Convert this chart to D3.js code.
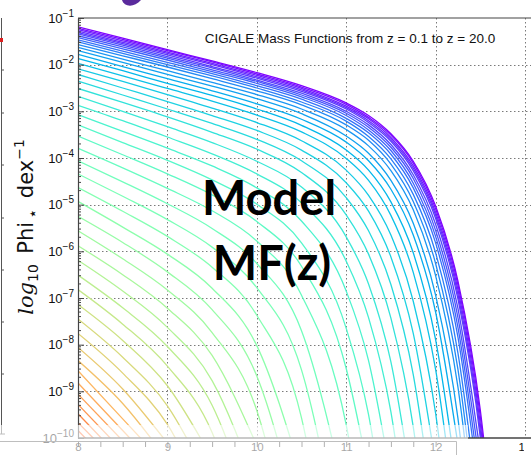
<!DOCTYPE html>
<html>
<head>
<meta charset="utf-8">
<script src="https://cdn.jsdelivr.net/npm/d3@7"></script>
<style>
  body { margin: 0; background: #fff; }
</style>
</head>
<body>
<div id="chart"></div>
<script>
// log10(M*) sample grid shared by all curves
const massGrid = [8, 8.5, 9, 9.5, 10, 10.5, 11, 11.25, 11.5, 11.75, 12, 12.25, 12.5, 12.75];

// log10 Phi for each redshift step, z = 0.1 (first) upwards; each stops once off the bottom
const logPhi = [
  [-1.19, -1.43, -1.68, -1.92, -2.17, -2.45, -2.82, -3.09, -3.48, -4.07, -5.03, -6.64, -9.40, -14.23],
  [-1.22, -1.46, -1.70, -1.94, -2.20, -2.48, -2.85, -3.13, -3.51, -4.11, -5.09, -6.72, -9.54, -14.46],
  [-1.25, -1.49, -1.73, -1.97, -2.23, -2.51, -2.89, -3.16, -3.56, -4.17, -5.16, -6.82, -9.70, -14.72],
  [-1.28, -1.52, -1.76, -2.00, -2.26, -2.54, -2.92, -3.20, -3.60, -4.22, -5.22, -6.92, -9.85, -14.96],
  [-1.31, -1.55, -1.79, -2.04, -2.29, -2.57, -2.95, -3.24, -3.64, -4.27, -5.29, -7.02, -9.99, -15.19],
  [-1.34, -1.58, -1.83, -2.07, -2.33, -2.61, -3.00, -3.29, -3.71, -4.36, -5.42, -7.22, -10.32],
  [-1.38, -1.62, -1.86, -2.11, -2.36, -2.65, -3.04, -3.34, -3.77, -4.44, -5.55, -7.42, -10.65],
  [-1.42, -1.66, -1.90, -2.15, -2.40, -2.69, -3.09, -3.40, -3.84, -4.54, -5.68, -7.63, -10.99],
  [-1.47, -1.71, -1.95, -2.19, -2.45, -2.74, -3.15, -3.46, -3.92, -4.64, -5.82, -7.84, -11.33],
  [-1.51, -1.76, -2.00, -2.24, -2.50, -2.80, -3.21, -3.54, -4.02, -4.78, -6.03, -8.18, -11.89],
  [-1.57, -1.81, -2.05, -2.30, -2.56, -2.86, -3.29, -3.62, -4.13, -4.93, -6.26, -8.53, -12.48],
  [-1.63, -1.88, -2.13, -2.38, -2.64, -2.95, -3.39, -3.74, -4.27, -5.11, -6.52, -8.91, -13.08],
  [-1.70, -1.95, -2.21, -2.46, -2.73, -3.05, -3.53, -3.90, -4.48, -5.40, -6.94, -9.58, -14.18],
  [-1.78, -2.04, -2.30, -2.56, -2.84, -3.17, -3.66, -4.06, -4.67, -5.65, -7.30, -10.14],
  [-1.87, -2.13, -2.40, -2.66, -2.95, -3.30, -3.83, -4.26, -4.94, -6.03, -7.89, -11.08],
  [-1.97, -2.24, -2.51, -2.78, -3.08, -3.44, -4.01, -4.48, -5.23, -6.45, -8.53, -12.11],
  [-2.09, -2.36, -2.64, -2.93, -3.24, -3.63, -4.26, -4.80, -5.65, -7.07, -9.47, -13.64],
  [-2.21, -2.50, -2.79, -3.09, -3.41, -3.83, -4.53, -5.14, -6.12, -7.76, -10.56],
  [-2.35, -2.65, -2.95, -3.26, -3.60, -4.06, -4.85, -5.56, -6.71, -8.64, -11.95],
  [-2.51, -2.81, -3.12, -3.45, -3.81, -4.31, -5.22, -6.06, -7.43, -9.76, -13.77],
  [-2.68, -3.00, -3.33, -3.67, -4.07, -4.62, -5.69, -6.70, -8.37, -11.21],
  [-2.87, -3.20, -3.55, -3.91, -4.34, -4.96, -6.21, -7.42, -9.44, -12.91],
  [-3.07, -3.43, -3.79, -4.17, -4.64, -5.35, -6.85, -8.34, -10.84],
  [-3.29, -3.67, -4.05, -4.47, -4.99, -5.82, -7.65, -9.50, -12.64],
  [-3.53, -3.93, -4.34, -4.79, -5.36, -6.32, -8.51, -10.75],
  [-3.79, -4.21, -4.65, -5.13, -5.78, -6.94, -9.72, -12.63],
  [-4.06, -4.51, -4.98, -5.51, -6.26, -7.70, -11.31],
  [-4.34, -4.82, -5.32, -5.91, -6.78, -8.54, -13.11],
  [-4.63, -5.14, -5.68, -6.34, -7.37, -9.57, -15.48],
  [-4.93, -5.48, -6.06, -6.79, -8.02, -10.78],
  [-5.25, -5.81, -6.44, -7.25, -8.67, -11.98],
  [-5.56, -6.16, -6.83, -7.74, -9.41, -13.48],
  [-5.88, -6.50, -7.22, -8.23, -10.16],
  [-6.19, -6.85, -7.63, -8.77, -11.05],
  [-6.51, -7.21, -8.04, -9.30, -11.92],
  [-6.82, -7.56, -8.46, -9.88, -12.94],
  [-7.14, -7.91, -8.88, -10.44],
  [-7.45, -8.27, -9.31, -11.05],
  [-7.76, -8.61, -9.71, -11.61],
  [-8.06, -8.95, -10.11],
  [-8.34, -9.26, -10.47],
  [-8.56, -9.59, -10.62],
  [-8.82, -9.84, -10.85],
  [-9.06, -10.06],
  [-9.28, -10.28],
  [-9.48, -10.48],
  [-9.67, -10.64],
  [-9.84, -10.82]
];
// colour map runs over more steps than are visible (highest z fall off the plot)
const colorSteps = 55;

const yTickExps = [-1, -2, -3, -4, -5, -6, -7, -8, -9, -10];
const xTickLabels = [8, 9, 10, 11, 12, 13];
const xMinorStep = 0.25;
const titleText = "CIGALE Mass Functions from z = 0.1 to z = 20.0";
const overlayWords = ["Model", "MF(z)"];

const width = 531, height = 455;
const plotLeft = 78, plotTop = 18, plotBottom = 438;

const svg = d3.select("#chart").append("svg")
  .attr("width", width)
  .attr("height", height)
  .style("display", "block")
  .style("font-family", "'Liberation Sans', Arial, sans-serif");

const x = d3.scaleLinear().domain([8, 13]).range([plotLeft, 525]);
const y = d3.scaleLog().domain([1e-10, 1e-1]).range([plotBottom, plotTop]);

// matplotlib 'rainbow'
function rainbow(t) {
  const r = Math.min(1, Math.abs(2 * t - 0.5));
  const g = Math.sin(Math.PI * t);
  const b = Math.cos(Math.PI * t / 2);
  return d3.rgb(r * 255, g * 255, b * 255).formatHex();
}
const color = d3.scaleSequential(rainbow).domain([0, colorSteps]);

svg.append("defs").append("clipPath").attr("id", "plotclip")
  .append("rect")
  .attr("x", plotLeft).attr("y", plotTop)
  .attr("width", width - plotLeft).attr("height", plotBottom - plotTop);

// dotted grid
const grid = svg.append("g")
  .attr("stroke", "#7a7a7a")
  .attr("stroke-width", 1)
  .attr("stroke-dasharray", "1.5,2.5");
grid.selectAll("line.h")
  .data(yTickExps.filter(e => e !== -1 && e !== -10))
  .join("line")
  .attr("x1", plotLeft).attr("x2", width)
  .attr("y1", d => Math.round(y(Math.pow(10, d))) + 0.5)
  .attr("y2", d => Math.round(y(Math.pow(10, d))) + 0.5);
grid.selectAll("line.v")
  .data(xTickLabels.filter(d => d > 8))
  .join("line")
  .attr("x1", d => Math.round(x(d)) + 0.5).attr("x2", d => Math.round(x(d)) + 0.5)
  .attr("y1", plotTop).attr("y2", plotBottom);

// mass function curves
const line = d3.line()
  .x((d, i) => x(massGrid[i]))
  .y(d => y(Math.pow(10, d)))
  .curve(d3.curveMonotoneX);

svg.append("g")
  .attr("clip-path", "url(#plotclip)")
  .selectAll("path")
  .data(logPhi)
  .join("path")
  .attr("d", line)
  .attr("fill", "none")
  .attr("stroke", (d, i) => color(i))
  .attr("stroke-width", 1.3);

// y axis with inward ticks
const yAxis = d3.axisLeft(y)
  .tickValues(yTickExps.map(e => Math.pow(10, e)))
  .tickSize(-6)
  .tickSizeOuter(0)
  .tickPadding(4)
  .tickFormat("");

const yAxisG = svg.append("g")
  .attr("transform", `translate(${plotLeft},0)`)
  .call(yAxis);
yAxisG.select(".domain").attr("stroke", "#444").attr("stroke-width", 1.2);
yAxisG.selectAll(".tick line").attr("stroke", "#444");
yAxisG.selectAll(".tick text")
  .attr("font-size", 13)
  .attr("fill", "#111")
  .each(function(d) {
    const t = d3.select(this);
    t.append("tspan").text("10");
    t.append("tspan").attr("dy", -6).attr("font-size", 10)
      .text(String(Math.round(Math.log10(d))).replace("-", "\u2212"));
  });

// minor log ticks
const minorVals = [];
yTickExps.slice(1).forEach(e => {
  for (let k = 2; k <= 9; k++) minorVals.push(k * Math.pow(10, e));
});
svg.append("g").selectAll("line")
  .data(minorVals)
  .join("line")
  .attr("x1", plotLeft).attr("x2", plotLeft + 3)
  .attr("y1", d => y(d)).attr("y2", d => y(d))
  .attr("stroke", "#444");

// top and bottom spines
svg.append("line")
  .attr("x1", plotLeft).attr("x2", width)
  .attr("y1", plotTop).attr("y2", plotTop)
  .attr("stroke", "#444").attr("stroke-width", 1.2);
svg.append("line")
  .attr("x1", plotLeft).attr("x2", width)
  .attr("y1", plotBottom).attr("y2", plotBottom)
  .attr("stroke", "#444").attr("stroke-width", 1.4);

// in-plot title
svg.append("text")
  .attr("x", 350).attr("y", 43)
  .attr("text-anchor", "middle")
  .attr("font-size", 13.5)
  .attr("fill", "#111")
  .text(titleText);

// y label
const ylab = svg.append("text")
  .attr("transform", "translate(33,227) rotate(-90)")
  .attr("text-anchor", "middle")
  .attr("font-family", "'DejaVu Sans', sans-serif")
  .attr("font-size", 21)
  .attr("fill", "#111");
ylab.append("tspan").attr("font-family", "'DejaVu Serif', serif").attr("font-style", "italic").text("log");
ylab.append("tspan").attr("font-size", 14).attr("dy", 5).text("10");
ylab.append("tspan").attr("dy", -5).text("\u2002Phi");
ylab.append("tspan").attr("font-size", 16).attr("dy", 5).text("\u2009\u22c6");
ylab.append("tspan").attr("dy", -5).text("\u2002dex");
ylab.append("tspan").attr("font-size", 14).attr("dy", -9).text("\u22121");

// big annotation
svg.append("g")
  .attr("font-family", "Lato, 'Open Sans', sans-serif")
  .attr("font-weight", "bold")
  .attr("font-size", 47)
  .attr("fill", "#000")
  .attr("text-anchor", "middle")
  .selectAll("text")
  .data(overlayWords)
  .join("text")
  .attr("x", (d, i) => i === 0 ? 269 : 272)
  .attr("y", (d, i) => i === 0 ? 215 : 280)
  .text(d => d);

// x tick labels row beneath the plot
svg.append("defs").append("clipPath").attr("id", "rowclip")
  .append("rect").attr("x", 0).attr("y", 430).attr("width", 524).attr("height", 30);

const quarterTicks = d3.range(8, 12.01, xMinorStep);
const xAxis = d3.axisBottom(x)
  .tickValues(quarterTicks)
  .tickSize(6)
  .tickPadding(-4.5)
  .tickFormat(d => Number.isInteger(d) ? d : "");
const xAxisG = svg.append("g")
  .attr("transform", "translate(0,441)")
  .call(xAxis);
xAxisG.select(".domain").remove();
xAxisG.selectAll(".tick line").attr("stroke", "#333");
xAxisG.selectAll(".tick text").attr("font-size", 11.5).attr("fill", "#111");

svg.append("path")
  .attr("d", "M0,441.5H456.5V455")
  .attr("fill", "none")
  .attr("stroke", "#555");

svg.append("text")
  .attr("clip-path", "url(#rowclip)")
  .attr("x", x(xTickLabels[xTickLabels.length - 1]))
  .attr("y", 451)
  .attr("text-anchor", "middle")
  .attr("font-size", 11.5)
  .attr("fill", "#111")
  .text(xTickLabels[xTickLabels.length - 1]);

// neighbouring slide panel edge on the left
svg.append("line")
  .attr("x1", 1.5).attr("x2", 1.5).attr("y1", 18).attr("y2", 434)
  .attr("stroke", "#555");
svg.append("g").selectAll("line")
  .data([70, 113, 165, 218, 270, 322, 374])
  .join("line")
  .attr("x1", 1.5).attr("x2", 4).attr("y1", d => d).attr("y2", d => d)
  .attr("stroke", "#555");
svg.append("line")
  .attr("x1", 0).attr("x2", 5).attr("y1", 434).attr("y2", 434)
  .attr("stroke", "#555");
svg.append("rect")
  .attr("x", 0).attr("y", 38).attr("width", 3).attr("height", 4)
  .attr("fill", "#e02020");

// purple fragment of the slide title above
svg.append("path")
  .attr("d", "M122,0 C124,7 134,8 141,0 Z")
  .attr("fill", "#5a2a9c");

// translucent white strip from the slide over the lower edge
svg.append("rect")
  .attr("x", 0).attr("y", 425)
  .attr("width", 468).attr("height", height - 425)
  .attr("fill", "#fff")
  .attr("fill-opacity", 0.62);
</script>
</body>
</html>
